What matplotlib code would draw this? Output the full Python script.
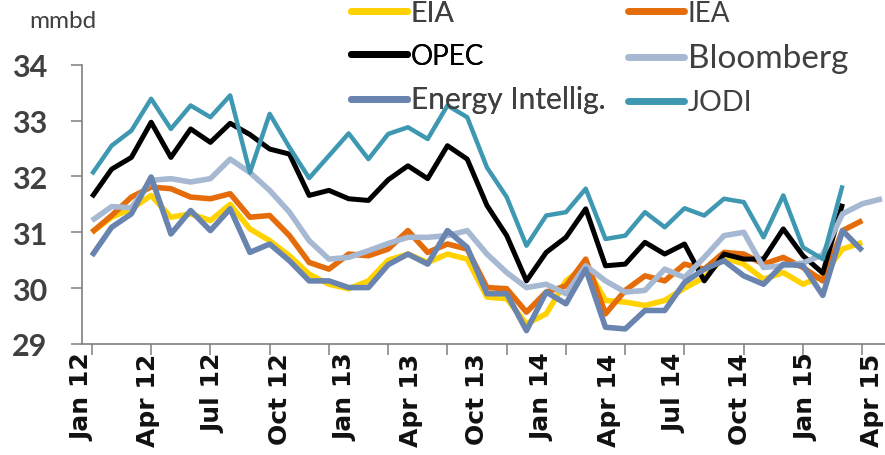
import matplotlib
matplotlib.use("Agg")
import matplotlib.pyplot as plt
import numpy as np

tick_labels = ["Jan 12", "Apr 12", "Jul 12", "Oct 12", "Jan 13", "Apr 13", "Oct 13",
               "Jan 14", "Apr 14", "Jul 14", "Oct 14", "Jan 15", "Apr 15"]

eia = [31.00, 31.27, 31.42, 31.66, 31.27, 31.33, 31.21, 31.50, 31.06, 30.85,
       30.58, 30.25, 30.07, 29.99, 30.13, 30.50, 30.61, 30.46, 30.61, 30.52,
       29.84, 29.81, 29.36, 29.54, 30.13, 30.40, 29.78, 29.75, 29.69, 29.78,
       30.00, 30.19, 30.55, 30.43, 30.16, 30.28, 30.07, 30.22, 30.70, 30.82]
iea = [31.00, 31.30, 31.63, 31.81, 31.78, 31.63, 31.60, 31.69, 31.27, 31.30,
       30.94, 30.46, 30.34, 30.61, 30.58, 30.70, 31.03, 30.64, 30.79, 30.70,
       30.01, 29.99, 29.57, 29.93, 30.04, 30.52, 29.54, 29.96, 30.22, 30.13,
       30.43, 30.34, 30.64, 30.61, 30.43, 30.55, 30.37, 30.13, 31.03, 31.21]
opec = [31.63, 32.13, 32.34, 32.97, 32.34, 32.85, 32.61, 32.95, 32.75, 32.49,
        32.40, 31.66, 31.75, 31.60, 31.57, 31.94, 32.19, 31.96, 32.55, 32.31,
        31.48, 30.94, 30.13, 30.64, 30.91, 31.42, 30.40, 30.43, 30.82, 30.61,
        30.79, 30.13, 30.61, 30.52, 30.52, 31.06, 30.58, 30.27, 31.51]
bloomberg = [31.21, 31.46, 31.44, 31.93, 31.96, 31.90, 31.96, 32.31, 32.07, 31.75,
             31.36, 30.85, 30.52, 30.55, 30.67, 30.80, 30.91, 30.91, 30.94, 31.03,
             30.61, 30.28, 30.01, 30.07, 29.90, 30.40, 30.13, 29.93, 29.96, 30.34,
             30.19, 30.55, 30.94, 31.00, 30.37, 30.40, 30.45, 30.60, 31.33, 31.51,
             31.60]
energy_intel = [30.58, 31.09, 31.33, 31.99, 30.97, 31.39, 31.03, 31.42, 30.64, 30.79,
                30.49, 30.13, 30.13, 30.01, 30.01, 30.42, 30.61, 30.43, 31.03, 30.73,
                29.90, 29.90, 29.24, 29.93, 29.72, 30.34, 29.30, 29.27, 29.60, 29.60,
                30.10, 30.34, 30.49, 30.22, 30.07, 30.43, 30.40, 29.87, 31.03, 30.67]
jodi = [32.04, 32.55, 32.82, 33.39, 32.85, 33.27, 33.06, 33.45, 32.07, 33.12,
        32.52, 31.97, 32.37, 32.77, 32.31, 32.76, 32.88, 32.67, 33.27, 33.06,
        32.16, 31.63, 30.76, 31.30, 31.36, 31.78, 30.88, 30.94, 31.36, 31.09,
        31.43, 31.30, 31.60, 31.54, 30.91, 31.66, 30.73, 30.52, 31.84]

series = [
    ("EIA", eia, "#FFD200", 4.0, 20.5, "#404040"),
    ("IEA", iea, "#E46C0A", 4.0, 20.0, "#404040"),
    ("OPEC", opec, "#000000", 3.6, 20.0, "#000000"),
    ("Bloomberg", bloomberg, "#A6B8D2", 4.0, 24.0, "#404040"),
    ("Energy Intellig.", energy_intel, "#6A84B0", 4.0, 21.5, "#404040"),
    ("JODI", jodi, "#3F98B1", 3.2, 20.5, "#404040"),
]

fig = plt.figure(figsize=(8.85, 4.56), dpi=100)
W, H = 885, 456
ax = fig.add_axes([82 / W, 1 - 345 / H, (885 - 82) / W, (345 - 65.7) / H])

handles = []
for name, vals, col, lw, fs, tc in series:
    xs = np.arange(len(vals))
    ln, = ax.plot(xs, vals, color=col, lw=lw, solid_joinstyle="round",
                  solid_capstyle="butt", label=name)
    handles.append(ln)

ax.set_xlim(0, 40.15)
ax.set_ylim(29, 34)

for s in ["top", "right"]:
    ax.spines[s].set_visible(False)
for s in ["left", "bottom"]:
    ax.spines[s].set_color("#7f7f7f")
    ax.spines[s].set_linewidth(1.2)

ax.set_yticks([29, 30, 31, 32, 33, 34])
ax.set_yticklabels(["29", "30", "31", "32", "33", "34"])
ax.tick_params(axis="y", direction="out", length=8, width=1.1, color="#7f7f7f",
               pad=17, labelsize=22, labelcolor="#404040")
for t in ax.get_yticklabels():
    t.set_fontfamily("Lato")
    t.set_fontweight("bold")

label_pos = [-0.5 + k * 40.0 / 12 for k in range(len(tick_labels))]
ax.set_xticks(label_pos)
ax.set_xticklabels(tick_labels, rotation=90, ha="center", va="top",
                   fontweight="bold", fontsize=18, family="DejaVu Sans")
ax.tick_params(axis="x", which="major", length=0, pad=6, labelcolor="#111111")
ax.set_xticks(np.arange(0, 40, 3), minor=True)
ax.tick_params(axis="x", which="minor", direction="out", length=8, width=1.1,
               color="#7f7f7f")

fig.text(29 / W, 1 - 22 / H, "mmbd", family="Lato", fontsize=17.5, color="#404040",
         ha="left", va="center")

def make_leg(idx, x0, y0):
    hs = [handles[i] for i in idx]
    leg = fig.legend(handles=hs, labels=[series[i][0] for i in idx],
                     loc="upper left", bbox_to_anchor=(x0 / W, 1 - y0 / H),
                     frameon=False, borderpad=0, borderaxespad=0,
                     handlelength=2.0, handletextpad=0.15, labelspacing=0.6,
                     prop={"family": "Lato", "size": 20})
    for lh in leg.legend_handles:
        lh.set_linewidth(5)
        lh.set_solid_capstyle("round")
    for t, i in zip(leg.get_texts(), idx):
        t.set_fontsize(series[i][4])
        t.set_color(series[i][5])
    return leg

leg1 = make_leg([0, 2, 4], 351, 1)
leg2 = make_leg([1, 3, 5], 628, 1)
fig.add_artist(leg1)

fig.savefig("out.png", dpi=100)
